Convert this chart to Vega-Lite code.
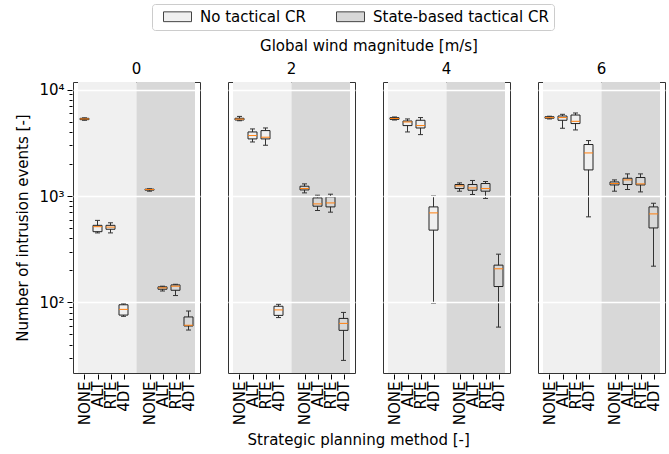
{
  "$schema": "https://vega.github.io/schema/vega-lite/v6.json",
  "padding": {"left": 15, "top": 3, "right": 5, "bottom": 5},
  "data": {"values": [
    {"kind": "bg", "wind": 0, "region": "No tactical CR", "x0": -0.5, "x1": 4},
    {"kind": "bg", "wind": 0, "region": "State-based tactical CR", "x0": 4, "x1": 8.5},
    {"kind": "bg", "wind": 2, "region": "No tactical CR", "x0": -0.5, "x1": 4},
    {"kind": "bg", "wind": 2, "region": "State-based tactical CR", "x0": 4, "x1": 8.5},
    {"kind": "bg", "wind": 4, "region": "No tactical CR", "x0": -0.5, "x1": 4},
    {"kind": "bg", "wind": 4, "region": "State-based tactical CR", "x0": 4, "x1": 8.5},
    {"kind": "bg", "wind": 6, "region": "No tactical CR", "x0": -0.5, "x1": 4},
    {"kind": "bg", "wind": 6, "region": "State-based tactical CR", "x0": 4, "x1": 8.5},

    {"kind": "box", "wind": 0, "pos": 0, "method": "NONE", "cr": "No tactical CR", "lo": 5150, "q1": 5220, "med": 5300, "q3": 5370, "hi": 5430},
    {"kind": "box", "wind": 0, "pos": 1, "method": "ALT", "cr": "No tactical CR", "lo": 450, "q1": 462, "med": 515, "q3": 530, "hi": 590},
    {"kind": "box", "wind": 0, "pos": 2, "method": "RTE", "cr": "No tactical CR", "lo": 450, "q1": 487, "med": 510, "q3": 530, "hi": 560},
    {"kind": "box", "wind": 0, "pos": 3, "method": "4DT", "cr": "No tactical CR", "lo": 74, "q1": 76, "med": 86, "q3": 95, "hi": 97},
    {"kind": "box", "wind": 0, "pos": 5, "method": "NONE", "cr": "State-based tactical CR", "lo": 1110, "q1": 1135, "med": 1150, "q3": 1160, "hi": 1170},
    {"kind": "box", "wind": 0, "pos": 6, "method": "ALT", "cr": "State-based tactical CR", "lo": 128, "q1": 133, "med": 137, "q3": 140, "hi": 142},
    {"kind": "box", "wind": 0, "pos": 7, "method": "RTE", "cr": "State-based tactical CR", "lo": 116, "q1": 130, "med": 142, "q3": 146, "hi": 148},
    {"kind": "box", "wind": 0, "pos": 8, "method": "4DT", "cr": "State-based tactical CR", "lo": 55, "q1": 60, "med": 61, "q3": 73, "hi": 83},

    {"kind": "box", "wind": 2, "pos": 0, "method": "NONE", "cr": "No tactical CR", "lo": 5100, "q1": 5180, "med": 5280, "q3": 5380, "hi": 5600},
    {"kind": "box", "wind": 2, "pos": 1, "method": "ALT", "cr": "No tactical CR", "lo": 3220, "q1": 3440, "med": 3700, "q3": 4000, "hi": 4270},
    {"kind": "box", "wind": 2, "pos": 2, "method": "RTE", "cr": "No tactical CR", "lo": 3000, "q1": 3440, "med": 3570, "q3": 4120, "hi": 4360},
    {"kind": "box", "wind": 2, "pos": 3, "method": "4DT", "cr": "No tactical CR", "lo": 72, "q1": 75.5, "med": 85, "q3": 92, "hi": 96},
    {"kind": "box", "wind": 2, "pos": 5, "method": "NONE", "cr": "State-based tactical CR", "lo": 1070, "q1": 1140, "med": 1175, "q3": 1236, "hi": 1300},
    {"kind": "box", "wind": 2, "pos": 6, "method": "ALT", "cr": "State-based tactical CR", "lo": 731, "q1": 802, "med": 843, "q3": 960, "hi": 1017},
    {"kind": "box", "wind": 2, "pos": 7, "method": "RTE", "cr": "State-based tactical CR", "lo": 705, "q1": 790, "med": 861, "q3": 981, "hi": 1040},
    {"kind": "box", "wind": 2, "pos": 8, "method": "4DT", "cr": "State-based tactical CR", "lo": 28.5, "q1": 54.6, "med": 63.5, "q3": 70.7, "hi": 80.5},

    {"kind": "box", "wind": 4, "pos": 0, "method": "NONE", "cr": "No tactical CR", "lo": 5180, "q1": 5250, "med": 5350, "q3": 5450, "hi": 5530},
    {"kind": "box", "wind": 4, "pos": 1, "method": "ALT", "cr": "No tactical CR", "lo": 4000, "q1": 4590, "med": 4965, "q3": 5070, "hi": 5300},
    {"kind": "box", "wind": 4, "pos": 2, "method": "RTE", "cr": "No tactical CR", "lo": 3776, "q1": 4357, "med": 4592, "q3": 5150, "hi": 5460},
    {"kind": "box", "wind": 4, "pos": 3, "method": "4DT", "cr": "No tactical CR", "lo": 98.5, "q1": 478, "med": 694, "q3": 790, "hi": 1000},
    {"kind": "box", "wind": 4, "pos": 5, "method": "NONE", "cr": "State-based tactical CR", "lo": 1110, "q1": 1175, "med": 1245, "q3": 1282, "hi": 1328},
    {"kind": "box", "wind": 4, "pos": 6, "method": "ALT", "cr": "State-based tactical CR", "lo": 1033, "q1": 1133, "med": 1191, "q3": 1282, "hi": 1400},
    {"kind": "box", "wind": 4, "pos": 7, "method": "RTE", "cr": "State-based tactical CR", "lo": 949, "q1": 1110, "med": 1175, "q3": 1310, "hi": 1368},
    {"kind": "box", "wind": 4, "pos": 8, "method": "4DT", "cr": "State-based tactical CR", "lo": 58.6, "q1": 141, "med": 207, "q3": 224, "hi": 284},

    {"kind": "box", "wind": 6, "pos": 0, "method": "NONE", "cr": "No tactical CR", "lo": 5300, "q1": 5380, "med": 5450, "q3": 5560, "hi": 5620},
    {"kind": "box", "wind": 6, "pos": 1, "method": "ALT", "cr": "No tactical CR", "lo": 4333, "q1": 5150, "med": 5460, "q3": 5650, "hi": 5860},
    {"kind": "box", "wind": 6, "pos": 2, "method": "RTE", "cr": "No tactical CR", "lo": 4178, "q1": 4797, "med": 5035, "q3": 5770, "hi": 6030},
    {"kind": "box", "wind": 6, "pos": 3, "method": "4DT", "cr": "No tactical CR", "lo": 637, "q1": 1759, "med": 2540, "q3": 3047, "hi": 3319},
    {"kind": "box", "wind": 6, "pos": 5, "method": "NONE", "cr": "State-based tactical CR", "lo": 1110, "q1": 1270, "med": 1310, "q3": 1356, "hi": 1417},
    {"kind": "box", "wind": 6, "pos": 6, "method": "ALT", "cr": "State-based tactical CR", "lo": 1151, "q1": 1282, "med": 1417, "q3": 1469, "hi": 1614},
    {"kind": "box", "wind": 6, "pos": 7, "method": "RTE", "cr": "State-based tactical CR", "lo": 1093, "q1": 1270, "med": 1300, "q3": 1492, "hi": 1614},
    {"kind": "box", "wind": 6, "pos": 8, "method": "4DT", "cr": "State-based tactical CR", "lo": 219, "q1": 501, "med": 679, "q3": 790, "hi": 855}
  ]},
  "facet": {
    "column": {
      "field": "wind", "type": "ordinal", "sort": [0, 2, 4, 6],
      "header": {
        "title": "Global wind magnitude [m/s]",
        "titleFontSize": 15, "titleFontWeight": "normal", "titleColor": "black", "titlePadding": -2,
        "labelFontSize": 15, "labelColor": "black", "labelPadding": 4
      }
    }
  },
  "spacing": 26,
  "title": {"text": "Strategic planning method [-]", "orient": "bottom", "anchor": "middle", "fontSize": 15, "fontWeight": "normal", "color": "black", "offset": 8, "dx": 18},
  "spec": {
    "width": 127,
    "height": 291,
    "encoding": {
      "x": {"field": "pos", "type": "quantitative",
        "scale": {"domain": [-0.5, 8.5], "nice": false, "zero": false},
        "axis": {"title": null, "values": [0, 1, 2, 3, 5, 6, 7, 8],
          "labelExpr": "['NONE','ALT','RTE','4DT'][datum.value % 5]",
          "labelAngle": 270, "labelFontSize": 15, "labelColor": "black", "labelPadding": 2,
          "labelOverlap": false, "labelFlush": false, "labelBound": false,
          "grid": false, "domain": false, "tickSize": 5, "tickColor": "black"}}
    },
    "layer": [
      {
        "transform": [{"filter": "datum.kind === 'bg'"}],
        "mark": {"type": "rect"},
        "encoding": {
          "x": {"field": "x0", "type": "quantitative"},
          "x2": {"field": "x1"},
          "color": {"field": "region", "type": "nominal",
            "scale": {"domain": ["No tactical CR", "State-based tactical CR"], "range": ["#f0f0f0", "#d8d8d8"]},
            "legend": {"title": null, "orient": "none", "legendX": 79, "legendY": -78, "direction": "horizontal",
              "symbolType": "M-2,-0.7L2,-0.7L2,0.7L-2,0.7Z", "symbolSize": 196, "symbolOffset": 13,
              "symbolStrokeColor": "#444", "symbolStrokeWidth": 1,
              "labelFontSize": 15, "labelColor": "black", "labelOffset": 15, "labelLimit": 0, "columnPadding": 24,
              "padding": 5, "strokeColor": "#cccccc", "fillColor": "white", "cornerRadius": 3}}
        }
      },
      {
        "transform": [{"filter": "datum.kind === 'box'"}],
        "mark": {"type": "rule", "color": "#333", "strokeWidth": 1},
        "encoding": {
          "y": {"field": "lo", "type": "quantitative",
            "scale": {"type": "log", "domain": [21.7, 11790], "nice": false},
            "axis": {"title": "Number of intrusion events [-]",
              "values": [30, 40, 50, 60, 70, 80, 90, 100, 200, 300, 400, 500, 600, 700, 800, 900, 1000, 2000, 3000, 4000, 5000, 6000, 7000, 8000, 9000, 10000],
              "labelExpr": "datum.value == 10000 ? '10⁴' : datum.value == 1000 ? '10³' : datum.value == 100 ? '10²' : ''",
              "tickSize": {"condition": {"test": "datum.value == 100 || datum.value == 1000 || datum.value == 10000", "value": 5}, "value": 3},
              "gridOpacity": {"condition": {"test": "datum.value == 100 || datum.value == 1000 || datum.value == 10000", "value": 1}, "value": 0},
              "gridColor": "white", "gridWidth": 1.3, "zindex": 1, "domain": false,
              "tickColor": "black", "labelColor": "black", "labelFontSize": 15, "labelPadding": 3,
              "labelOverlap": false, "labelFlush": false,
              "titleFontSize": 15, "titleFontWeight": "normal", "titleColor": "black", "titlePadding": 8}},
          "y2": {"field": "q1"}
        }
      },
      {
        "transform": [{"filter": "datum.kind === 'box'"}],
        "mark": {"type": "rule", "color": "#333", "strokeWidth": 1},
        "encoding": {"y": {"field": "q3", "type": "quantitative"}, "y2": {"field": "hi"}}
      },
      {
        "transform": [{"filter": "datum.kind === 'box'"}],
        "mark": {"type": "bar", "size": 9, "filled": false, "color": "#222", "strokeWidth": 1},
        "encoding": {"y": {"field": "q1", "type": "quantitative"}, "y2": {"field": "q3"}}
      },
      {
        "transform": [{"filter": "datum.kind === 'box'"}],
        "mark": {"type": "tick", "orient": "horizontal", "size": 5, "thickness": 1, "color": "#333"},
        "encoding": {"y": {"field": "lo", "type": "quantitative"}}
      },
      {
        "transform": [{"filter": "datum.kind === 'box'"}],
        "mark": {"type": "tick", "orient": "horizontal", "size": 5, "thickness": 1, "color": "#333"},
        "encoding": {"y": {"field": "hi", "type": "quantitative"}}
      },
      {
        "transform": [{"filter": "datum.kind === 'box'"}],
        "mark": {"type": "tick", "orient": "horizontal", "size": 9, "thickness": 1, "color": "#ff7f0e"},
        "encoding": {"y": {"field": "med", "type": "quantitative"}}
      }
    ]
  },
  "config": {
    "font": "DejaVu Sans",
    "view": {"stroke": "#333", "strokeWidth": 1},
    "tick": {"opacity": 1},
    "bar": {"opacity": 1}
  }
}
